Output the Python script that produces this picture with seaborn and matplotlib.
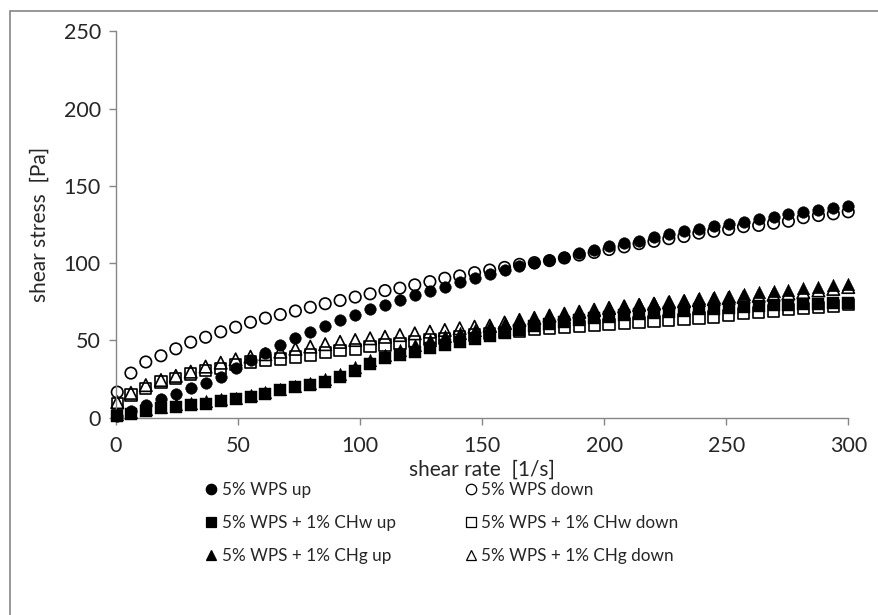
import pandas as pd
import seaborn as sns
from matplotlib import pyplot as plt
from matplotlib.lines import Line2D
from matplotlib.patches import Rectangle

# shear rate [1/s], same sweep points for all curves
shear_rate = [0.5, 6.1, 12.2, 18.4, 24.5, 30.6, 36.7, 42.9, 49.0, 55.1,
              61.2, 67.3, 73.5, 79.6, 85.7, 91.8, 98.0, 104.1, 110.2, 116.3,
              122.4, 128.6, 134.7, 140.8, 146.9, 153.1, 159.2, 165.3, 171.4, 177.6,
              183.7, 189.8, 195.9, 202.0, 208.2, 214.3, 220.4, 226.5, 232.7, 238.8,
              244.9, 251.0, 257.1, 263.3, 269.4, 275.5, 281.6, 287.8, 293.9, 300.0]

# shear stress [Pa]
wps_up = [1, 4, 8, 12, 15.5, 19, 22.5, 26.5, 32, 37,
          42, 47, 51.5, 55.5, 59, 63, 66.5, 70, 73, 76.3,
          79.3, 82.2, 84.8, 87.6, 90.2, 93.2, 95.8, 98, 100.2, 101.8,
          103.8, 106.4, 108.6, 110.8, 112.8, 114.6, 116.7, 118.8, 120.6, 122.1,
          123.8, 125.6, 126.9, 128.5, 130, 131.7, 132.9, 134.3, 135.9, 136.9]
wps_down = [16.5, 28.8, 36, 40, 44.5, 48.8, 52, 55.5, 58.5, 61.7,
            64.4, 66.7, 69, 71.4, 73.7, 75.8, 78, 80.1, 82.2, 83.8,
            85.9, 88, 90.2, 91.7, 93.8, 95.5, 97.2, 99.2, 100.3, 101.6,
            103.3, 105.2, 106.9, 108.8, 110.5, 112.6, 114.1, 115.8, 117.2, 119.4,
            120.6, 121.8, 123.6, 124.4, 125.8, 127.1, 129.4, 130.8, 131.9, 133.2]
chw_up = [1, 2.5, 4.5, 6, 7, 8, 9, 10.5, 11.8, 13.3,
          15.5, 17.6, 19.5, 21, 23.2, 26.4, 30, 34.5, 38.3, 40.5,
          42.6, 44.8, 47, 49, 50.7, 52.8, 55, 57, 59, 60.6,
          62, 63.3, 64.4, 65.4, 66.2, 67, 67.8, 68.6, 69.3, 70,
          70.6, 71.2, 71.7, 72.2, 72.6, 73, 73.3, 73.6, 73.9, 74.2]
chw_down = [9, 14.6, 18.9, 23, 25.4, 28.2, 30.3, 32, 34.3, 36,
            36.8, 38, 39.2, 40.5, 42, 43.3, 44.3, 45.9, 47, 48,
            49.1, 50.4, 51.4, 52.4, 53.4, 54.2, 55.2, 56, 56.8, 57.6,
            58.2, 58.8, 59.4, 60.1, 60.7, 61.4, 62.1, 62.8, 63.6, 64.4,
            65.2, 66.2, 67.2, 67.8, 69, 70, 70.6, 71.4, 72.2, 73.2]
chg_up = [2, 3.5, 5.5, 7, 8.5, 9.5, 10.5, 12, 13, 14.5,
          16.5, 18.5, 20.5, 22.5, 25, 28.5, 32.5, 37, 40.5, 43.5,
          47, 50, 52.5, 54.5, 56.5, 59, 61.2, 63, 64.2, 65.6,
          67, 68.5, 69.8, 71, 72, 73.2, 74.2, 75.2, 76.2, 77.2,
          78.1, 79, 80.3, 81.2, 81.9, 82.6, 83.8, 84.6, 85.5, 86.3]
chg_down = [10, 16, 21, 24.3, 27, 29.7, 33, 35.5, 37.7, 39.4,
            41, 42.6, 44.5, 45.9, 47.5, 49, 50.2, 51.3, 52.3, 53.4,
            54.5, 55.6, 56.7, 57.8, 58.8, 59.5, 61.5, 63.2, 64.5, 66,
            67.2, 68.5, 69.8, 71, 72, 72.9, 73.7, 74.5, 75.3, 76,
            76.7, 77.4, 78.1, 78.8, 79.5, 80.3, 81.2, 82.3, 83.3, 84.5]

labels = ["5% WPS up", "5% WPS down",
          "5% WPS + 1% CHw up", "5% WPS + 1% CHw down",
          "5% WPS + 1% CHg up", "5% WPS + 1% CHg down"]
series = [wps_up, wps_down, chw_up, chw_down, chg_up, chg_down]
markers = ["o", "o", "s", "s", "^", "^"]
filled = [True, False, True, False, True, False]
sizes = [70, 68, 68, 66, 82, 80]

sns.set_style("white")
plt.rcParams["font.family"] = ["Lato", "DejaVu Sans"]

fig = plt.figure(figsize=(8.79, 6.15), dpi=100)
ax = fig.add_axes([0.132, 0.321, 0.833, 0.628])

for lab, ys, m, f, s in zip(labels, series, markers, filled, sizes):
    df = pd.DataFrame({"shear rate": shear_rate, "shear stress": ys})
    sns.scatterplot(data=df, x="shear rate", y="shear stress", ax=ax,
                    marker=m, s=s, color="black",
                    facecolor="black" if f else "none",
                    edgecolor="black", linewidth=1.2 if not f else 0.3,
                    clip_on=False, zorder=3 if f else 2)

gray = "#868686"
ax.set_xlim(0, 300)
ax.set_ylim(0, 250)
ax.set_xticks(range(0, 301, 50))
ax.set_yticks(range(0, 251, 50))
for side in ["top", "right"]:
    ax.spines[side].set_visible(False)
for side in ["left", "bottom"]:
    ax.spines[side].set_color(gray)
    ax.spines[side].set_linewidth(1.0)
ax.tick_params(axis="both", which="major", direction="out", length=5,
               width=1.0, color=gray, labelsize=15.5, bottom=True, left=True)
ax.tick_params(axis="x", pad=8)
ax.tick_params(axis="y", pad=6)
ax.set_xlabel("shear rate  [1/s]", fontsize=15, labelpad=3)
ax.set_ylabel("shear stress  [Pa]", fontsize=15)
ax.yaxis.set_label_coords(-0.09, 0.5)

# legend: two columns, rows are up/down pairs
handles = []
for lab, m, f in zip(labels, markers, filled):
    handles.append(Line2D([], [], linestyle="none", marker=m, markersize=7.5,
                          markerfacecolor="black" if f else "none",
                          markeredgecolor="black", markeredgewidth=0.9, label=lab))
order = [0, 2, 4, 1, 3, 5]
fig.legend([handles[i] for i in order], [labels[i] for i in order],
           ncol=2, frameon=False, fontsize=12.3, loc="upper left",
           bbox_to_anchor=(0.225, 0.228), handlelength=0.8, handletextpad=0.2,
           columnspacing=4.0, labelspacing=1.0, borderaxespad=0)

# chart area frame
fig.patches.append(Rectangle((10 / 879, -0.1), 1.2, 1.1 - 11 / 615,
                             transform=fig.transFigure, fill=False,
                             edgecolor=gray, linewidth=1.2))

fig.savefig("out.png", dpi=100)
